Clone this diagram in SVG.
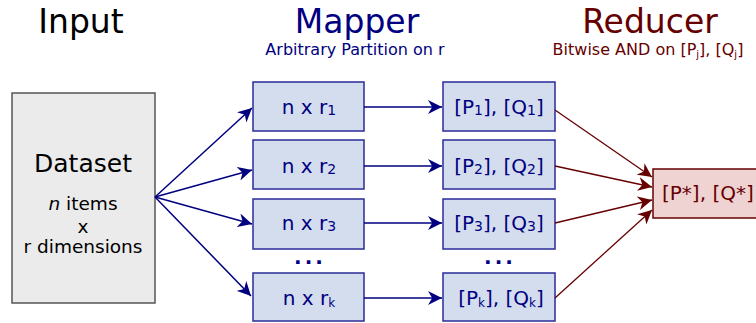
<svg xmlns="http://www.w3.org/2000/svg" width="756" height="323" viewBox="0 0 756 323">
<defs>
<style>
text{font-family:"DejaVu Sans","Liberation Sans",sans-serif;text-anchor:middle}
.title{font-size:33px}
.sub{font-size:16px}
.blue{fill:#000080}
.red{fill:#660000}
.box{fill:#d3ddee;stroke:#2b2b99;stroke-width:1.5}
.btxt{font-size:20px;fill:#000080}
.s{font-size:14px}
.ds{fill:#ebebeb;stroke:#555555;stroke-width:1.5}
.cb{stroke:#000080;stroke-width:1.5;fill:none;marker-end:url(#ab)}
.cr{stroke:#660000;stroke-width:1.3;fill:none;marker-end:url(#ar)}
.start{text-anchor:start}
</style>
<marker id="ab" viewBox="0 0 10 10" refX="10" refY="5" markerWidth="14" markerHeight="14" markerUnits="userSpaceOnUse" orient="auto"><path d="M0,0 L10,5 L0,10 L3,5 z" fill="#000080"/></marker>
<marker id="ar" viewBox="0 0 10 10" refX="10" refY="5" markerWidth="14" markerHeight="14" markerUnits="userSpaceOnUse" orient="auto"><path d="M0,0 L10,5 L0,10 L3,5 z" fill="#660000"/></marker>
</defs>
<rect width="756" height="323" fill="#ffffff"/>
<g id="titles">
<text class="title" x="81" y="33" fill="#000000">Input</text>
<text class="title blue" x="357" y="33">Mapper</text>
<text class="sub blue" x="355" y="55">Arbitrary Partition on r</text>
<text class="title red" x="650" y="33">Reducer</text>
<text class="sub red" x="648" y="55">Bitwise AND on [P<tspan font-size="10" dy="3">j</tspan><tspan dy="-3">], [Q</tspan><tspan font-size="10" dy="3">j</tspan><tspan dy="-3">]</tspan></text>
</g>
<g id="dataset">
<rect class="ds" x="12" y="93" width="143" height="210"/>
<text x="83" y="172" font-size="25">Dataset</text>
<text x="83" y="210" font-size="18.5"><tspan font-style="italic">n</tspan> items</text>
<text x="83" y="233" font-size="18.5">x</text>
<text x="83" y="253" font-size="18.5">r dimensions</text>
</g>
<g id="map1"><rect class="box" x="253" y="82" width="111" height="49"/><text class="btxt" x="309" y="114">n x r<tspan class="s" dy="1">1</tspan></text></g>
<g id="map2"><rect class="box" x="253" y="140" width="111" height="49"/><text class="btxt" x="309" y="173">n x r<tspan class="s" dy="1">2</tspan></text></g>
<g id="map3"><rect class="box" x="253" y="199" width="111" height="50"/><text class="btxt" x="309" y="230">n x r<tspan class="s" dy="1">3</tspan></text></g>
<g id="mapk"><rect class="box" x="253" y="273" width="111" height="48"/><text class="btxt" x="309" y="305">n x r<tspan font-size="12" dy="2">k</tspan></text></g>
<g id="res1"><rect class="box" x="443" y="82" width="112" height="49"/><text class="btxt" x="499" y="114">[P<tspan class="s" dy="1">1</tspan><tspan dy="-1">], [Q</tspan><tspan class="s" dy="1">1</tspan><tspan dy="-1">]</tspan></text></g>
<g id="res2"><rect class="box" x="443" y="140" width="112" height="49"/><text class="btxt" x="499" y="173">[P<tspan class="s" dy="1">2</tspan><tspan dy="-1">], [Q</tspan><tspan class="s" dy="1">2</tspan><tspan dy="-1">]</tspan></text></g>
<g id="res3"><rect class="box" x="443" y="199" width="112" height="50"/><text class="btxt" x="499" y="230">[P<tspan class="s" dy="1">3</tspan><tspan dy="-1">], [Q</tspan><tspan class="s" dy="1">3</tspan><tspan dy="-1">]</tspan></text></g>
<g id="resk"><rect class="box" x="443" y="273" width="112" height="48"/><text class="btxt" x="501" y="305">[P<tspan font-size="12" dy="2">k</tspan><tspan dy="-2">], [Q</tspan><tspan font-size="12" dy="2">k</tspan><tspan dy="-2">]</tspan></text></g>
<g id="dots">
<text class="btxt" x="310" y="264" font-weight="bold" letter-spacing="3">...</text>
<text class="btxt" x="500" y="264" font-weight="bold" letter-spacing="3">...</text>
</g>
<g id="reducer"><rect x="653" y="169" width="110" height="49" fill="#efd3d3" stroke="#660000" stroke-width="1.5"/><text class="start" x="662" y="200" font-size="20" fill="#660000">[P*], [Q*]</text></g>
<g id="connectors">
<path class="cb" d="M155,197 L252,108"/>
<path class="cb" d="M155,197 L252,170"/>
<path class="cb" d="M155,197 L252,224"/>
<path class="cb" d="M155,197 L251,296"/>
<path class="cb" d="M364,107 L442,107"/>
<path class="cb" d="M364,166 L442,166"/>
<path class="cb" d="M364,223 L442,223"/>
<path class="cb" d="M364,298 L442,298"/>
<path class="cr" d="M555,110 L652,177"/>
<path class="cr" d="M555,166 L652,187"/>
<path class="cr" d="M555,223 L652,200"/>
<path class="cr" d="M555,298 L652,210"/>
</g>
</svg>
